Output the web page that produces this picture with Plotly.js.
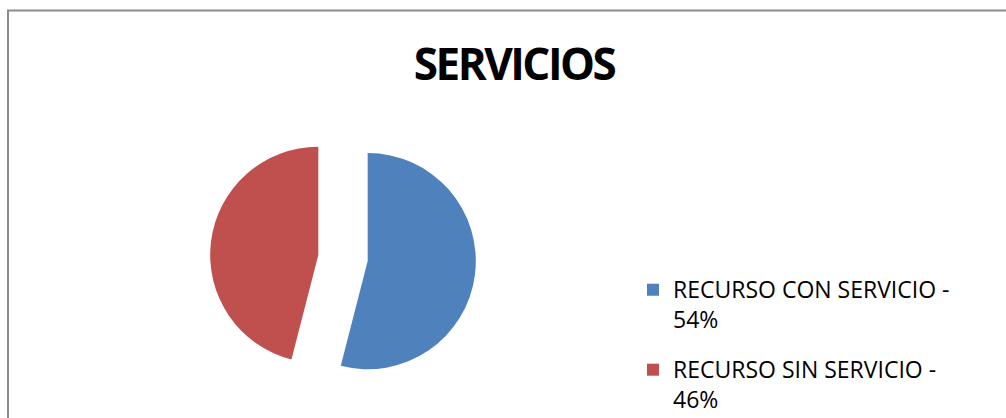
<!DOCTYPE html>
<html>
<head>
<meta charset="utf-8">
<script src="https://cdn.plot.ly/plotly-3.0.1.min.js"></script>
<style>
html,body{margin:0;padding:0;background:#fff;}
#chart{width:1006px;height:418px;}
.gtitle{letter-spacing:-2.5px;}
</style>
</head>
<body>
<div id="chart"></div>
<script>
const categories = ["RECURSO CON SERVICIO", "RECURSO SIN SERVICIO"];
const percentages = [54, 46];
const colors = ["#4F81BD", "#C0504D"];
const chartTitle = "SERVICIOS";

const legendLabels = categories.map((c, i) =>
  '<span style="font-size:23px;baseline-shift:3.3px">' + c + ' -</span><br>' +
  '<span style="font-size:23px;baseline-shift:11.8px">' + percentages[i] + '%</span>');

const W = 1006, H = 418;
const trace = {
  type: "pie",
  labels: legendLabels,
  values: percentages,
  marker: {colors: colors, line: {width: 0}},
  sort: false,
  direction: "clockwise",
  rotation: 0,
  pull: [0.23, 0.23],
  textinfo: "none",
  hoverinfo: "label+percent",
  domain: {x: [209 / W, 477 / W], y: [(H - 391) / H, (H - 125) / H]}
};

const layout = {
  width: W, height: H,
  margin: {l: 0, r: 0, t: 0, b: 0, autoexpand: false},
  paper_bgcolor: "#ffffff",
  title: {
    text: "<b>" + chartTitle + "</b>",
    font: {family: "Open Sans, sans-serif", size: 44, color: "#000000"},
    x: 514 / W, xanchor: "center", xref: "container",
    y: 1 - 65 / H, yanchor: "middle", yref: "container"
  },
  showlegend: true,
  legend: {
    x: 633 / W, xanchor: "left",
    y: 1 - 264 / H, yanchor: "top",
    valign: "top",
    font: {family: "Open Sans, sans-serif", size: 29.6, color: "#000000"},
    bgcolor: "rgba(0,0,0,0)",
    borderwidth: 0
  },
  shapes: [{
    type: "rect", xref: "paper", yref: "paper",
    x0: 8 / W, x1: 1.02, y0: -0.02, y1: 1 - 10.5 / H,
    line: {color: "#8c8c8c", width: 2},
    fillcolor: "rgba(0,0,0,0)"
  }]
};

Plotly.newPlot("chart", [trace], layout, {displayModeBar: false, staticPlot: true});
</script>
</body>
</html>
